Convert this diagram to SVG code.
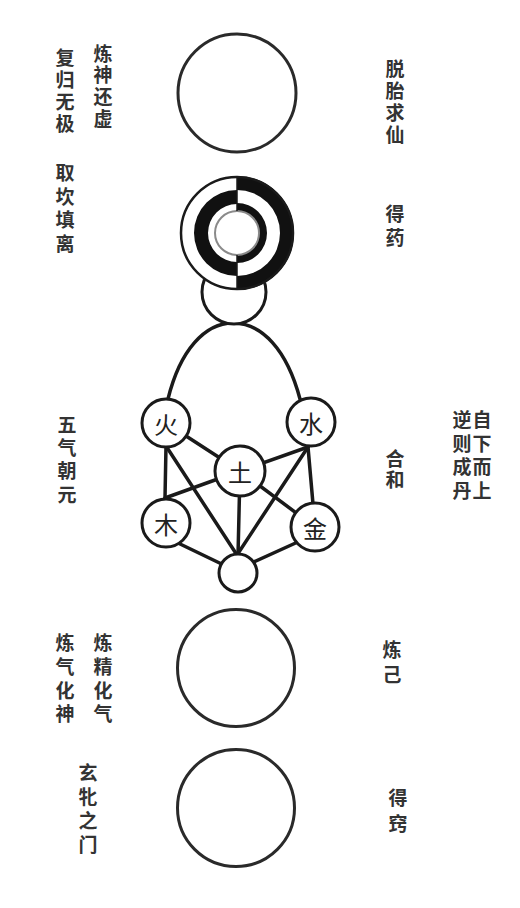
<svg xmlns="http://www.w3.org/2000/svg" width="520" height="908" viewBox="0 0 520 908">
<style>
.bg{fill:#fff}
.big{fill:none;stroke:#2a2a2a;stroke-width:3}
.node{fill:#fff;stroke:#1a1a1a;stroke-width:3}
.ln{fill:none;stroke:#1a1a1a;stroke-width:3.5;stroke-linecap:round}
.blk{fill:#111;stroke:none}
.lab{font-family:"Noto Sans CJK SC","Noto Sans CJK TC",sans-serif;font-size:19px;font-weight:700;fill:#333;text-anchor:middle;dominant-baseline:central}
.el{font-family:"Noto Sans CJK SC","Noto Sans CJK TC",sans-serif;font-size:24px;font-weight:400;fill:#222;text-anchor:middle;dominant-baseline:central}
</style>
<rect class="bg" x="0" y="0" width="520" height="908"/>

<g id="connectors">
<path class="ln" d="M233,323 C205,323 180,350 168,399"/>
<path class="ln" d="M233,323 C262,323 287,350 300,399"/>
<line class="ln" x1="166" y1="446" x2="165" y2="498"/>
<line class="ln" x1="166" y1="423" x2="240" y2="471"/>
<line class="ln" x1="166" y1="446" x2="237" y2="555"/>
<line class="ln" x1="165" y1="498" x2="240" y2="471"/>
<line class="ln" x1="178" y1="543" x2="232" y2="569"/>
<line class="ln" x1="240" y1="471" x2="238" y2="556"/>
<line class="ln" x1="240" y1="471" x2="315" y2="527"/>
<line class="ln" x1="308" y1="447" x2="240" y2="471"/>
<line class="ln" x1="308" y1="447" x2="237" y2="555"/>
<line class="ln" x1="308" y1="447" x2="313" y2="504"/>
<line class="ln" x1="300" y1="541" x2="245" y2="566"/>
</g>

<g id="n-top"><circle class="big" cx="237" cy="93" r="59"/></g>

<g id="n-small"><circle class="node" cx="234" cy="292" r="32"/></g>

<g id="n-kanli">
<circle cx="237" cy="233" r="57" fill="#fff"/>
<path class="blk" d="M237,190 A43,43 0 0 0 237,276 L237,262 A29,29 0 0 1 237,204 Z"/>
<path class="blk" d="M237,176 A57,57 0 0 1 237,290 L237,276 A43,43 0 0 0 237,190 Z"/>
<path class="blk" d="M237,203 A30,30 0 0 1 237,263 L237,255 A22,22 0 0 0 237,211 Z"/>
<circle cx="237" cy="233" r="22" fill="#fff" stroke="#8a8a8a" stroke-width="2"/>
<line x1="237" y1="176" x2="237" y2="211" stroke="#1a1a1a" stroke-width="1.5"/>
<line x1="237" y1="255" x2="237" y2="290" stroke="#1a1a1a" stroke-width="1.5"/>
<circle cx="237" cy="233" r="56" fill="none" stroke="#1a1a1a" stroke-width="2.5"/>
</g>

<g id="n-huo"><circle class="node" cx="166" cy="423" r="24"/><text class="el" x="166" y="423">火</text></g>
<g id="n-shui"><circle class="node" cx="311" cy="422" r="24"/><text class="el" x="311" y="422">水</text></g>
<g id="n-tu"><circle class="node" cx="240" cy="471" r="25"/><text class="el" x="240" y="471">土</text></g>
<g id="n-mu"><circle class="node" cx="166" cy="523" r="24"/><text class="el" x="166" y="523">木</text></g>
<g id="n-jin"><circle class="node" cx="315" cy="527" r="24"/><text class="el" x="315" y="527">金</text></g>
<g id="n-bottom"><circle class="node" cx="238" cy="573" r="19"/></g>

<g id="n-c4"><circle class="big" cx="236" cy="668" r="58.5"/></g>
<g id="n-c5"><circle class="big" cx="236" cy="808" r="58.5"/></g>

<g id="labels">
<text class="lab"><tspan x="103" y="52">炼</tspan><tspan x="103" y="73">神</tspan><tspan x="103" y="95">还</tspan><tspan x="103" y="117">虚</tspan></text>
<text class="lab"><tspan x="65" y="56">复</tspan><tspan x="65" y="78">归</tspan><tspan x="65" y="100">无</tspan><tspan x="65" y="122">极</tspan></text>
<text class="lab"><tspan x="65" y="171">取</tspan><tspan x="65" y="195">坎</tspan><tspan x="65" y="218">填</tspan><tspan x="65" y="242">离</tspan></text>
<text class="lab"><tspan x="395" y="67">脱</tspan><tspan x="395" y="89">胎</tspan><tspan x="395" y="111">求</tspan><tspan x="395" y="133">仙</tspan></text>
<text class="lab"><tspan x="395" y="212">得</tspan><tspan x="395" y="236">药</tspan></text>
<text class="lab"><tspan x="67" y="423">五</tspan><tspan x="67" y="446">气</tspan><tspan x="67" y="469">朝</tspan><tspan x="67" y="493">元</tspan></text>
<text class="lab"><tspan x="395" y="457">合</tspan><tspan x="395" y="478">和</tspan></text>
<text class="lab"><tspan x="462" y="418">逆</tspan><tspan x="462" y="442">则</tspan><tspan x="462" y="465">成</tspan><tspan x="462" y="489">丹</tspan></text>
<text class="lab"><tspan x="482" y="418">自</tspan><tspan x="482" y="442">下</tspan><tspan x="482" y="465">而</tspan><tspan x="482" y="489">上</tspan></text>
<text class="lab"><tspan x="65" y="641">炼</tspan><tspan x="65" y="665">气</tspan><tspan x="65" y="689">化</tspan><tspan x="65" y="712">神</tspan></text>
<text class="lab"><tspan x="103" y="641">炼</tspan><tspan x="103" y="665">精</tspan><tspan x="103" y="689">化</tspan><tspan x="103" y="712">气</tspan></text>
<text class="lab"><tspan x="88" y="771">玄</tspan><tspan x="88" y="795">牝</tspan><tspan x="88" y="819">之</tspan><tspan x="88" y="843">门</tspan></text>
<text class="lab"><tspan x="392" y="648">炼</tspan><tspan x="392" y="673">己</tspan></text>
<text class="lab"><tspan x="398" y="796">得</tspan><tspan x="398" y="822">窍</tspan></text>
</g>
</svg>
